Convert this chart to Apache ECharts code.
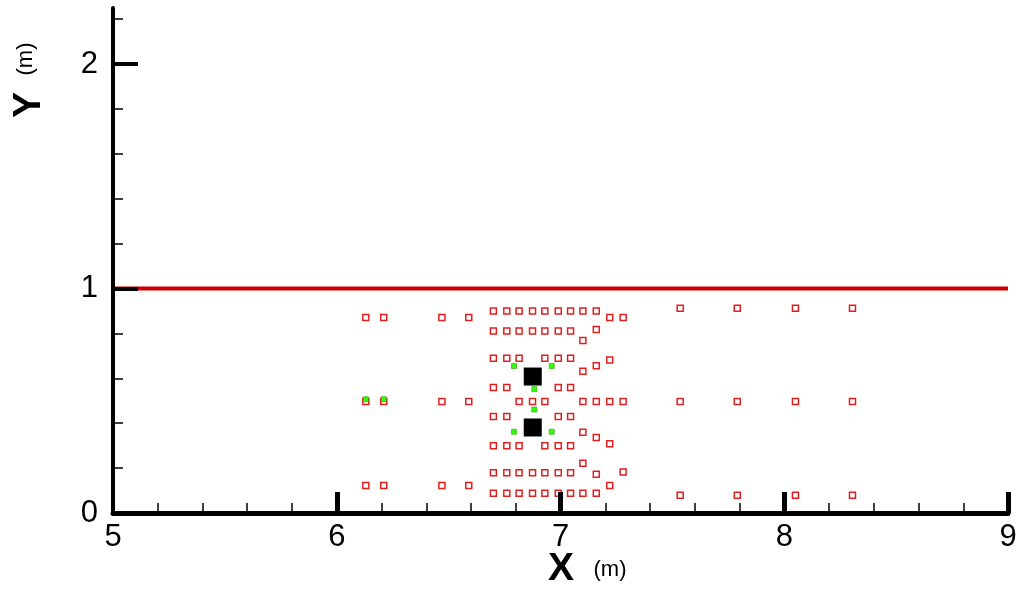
<!DOCTYPE html>
<html>
<head>
<meta charset="utf-8">
<script src="https://cdn.jsdelivr.net/npm/echarts@6/dist/echarts.min.js"></script>
<style>
  html, body { margin: 0; padding: 0; background: #fff; }
  #chart { width: 1024px; height: 590px; }
</style>
</head>
<body>
<div id="chart"></div>
<script>
// probe positions (red hollow squares)
const redSquares = [
  [6.70, 0.90], [6.76, 0.90], [6.815, 0.90], [6.875, 0.90], [6.93, 0.90], [6.99, 0.90], [7.045, 0.90], [7.10, 0.90], [7.16, 0.90],
  [7.535, 0.912], [7.79, 0.912], [8.05, 0.912], [8.305, 0.912],
  [6.13, 0.871], [6.21, 0.871], [6.47, 0.871], [6.59, 0.871], [7.22, 0.871], [7.28, 0.871],
  [6.70, 0.811], [6.76, 0.811], [6.815, 0.811], [6.875, 0.811], [6.93, 0.811], [6.99, 0.811], [7.045, 0.811],
  [7.16, 0.818], [7.10, 0.769],
  [6.70, 0.689], [6.76, 0.689], [6.815, 0.689], [6.93, 0.689], [6.99, 0.689], [7.045, 0.689],
  [7.22, 0.682], [7.16, 0.656], [7.10, 0.632],
  [6.70, 0.559], [6.76, 0.559], [6.99, 0.559], [7.045, 0.559],
  [6.13, 0.497], [6.21, 0.497], [6.47, 0.497], [6.59, 0.497], [6.815, 0.497], [6.875, 0.497], [6.93, 0.497],
  [7.10, 0.497], [7.16, 0.497], [7.22, 0.497], [7.28, 0.497], [7.535, 0.497], [7.79, 0.497], [8.05, 0.497], [8.305, 0.497],
  [6.70, 0.430], [6.76, 0.430], [6.99, 0.430], [7.045, 0.430],
  [7.10, 0.360], [7.16, 0.336], [7.22, 0.309],
  [6.70, 0.300], [6.76, 0.300], [6.815, 0.300], [6.93, 0.300], [6.99, 0.300], [7.045, 0.300],
  [7.10, 0.222],
  [6.70, 0.179], [6.76, 0.179], [6.815, 0.179], [6.875, 0.179], [6.93, 0.179], [6.99, 0.179], [7.045, 0.179],
  [7.16, 0.173], [7.28, 0.183],
  [6.13, 0.122], [6.21, 0.122], [6.47, 0.122], [6.59, 0.122], [7.22, 0.122],
  [6.70, 0.088], [6.76, 0.088], [6.815, 0.088], [6.875, 0.088], [6.93, 0.088], [6.99, 0.088], [7.045, 0.088], [7.10, 0.088], [7.16, 0.088],
  [7.535, 0.079], [7.79, 0.079], [8.05, 0.079], [8.305, 0.079]
]

const greenPoints = [
  [6.13, 0.507], [6.21, 0.507],
  [6.792, 0.655], [6.961, 0.655],
  [6.883, 0.552], [6.883, 0.461],
  [6.792, 0.362], [6.961, 0.362]
]

const blackSquares = [[6.876, 0.608], [6.876, 0.381]]

const surfaceLine = [[5, 1], [9, 1]]

const xTickLabels = [5, 6, 7, 8, 9]
const xMajorTicks = [6, 7, 8, 9]
const yTickLabels = [0, 1, 2]
const yMajorTicks = [1, 2]
const yMinorTicks = [0.2, 0.4, 0.6, 0.8, 1.2, 1.4, 1.6, 1.8, 2.2]

const FONT = "'Liberation Sans', Arial, sans-serif"

const chart = echarts.init(document.getElementById("chart"))

const yBase = {
  type: "value",
  min: 0,
  max: 2.25,
  interval: 1,
  splitLine: { show: false },
}

chart.setOption({
  animation: false,
  backgroundColor: "#fff",
  grid: { left: 113, right: 16, top: 8, bottom: 77 },
  xAxis: {
    type: "value",
    min: 5,
    max: 9,
    interval: 1,
    z: 5,
    axisLine: { onZero: false, lineStyle: { color: "#000", width: 5 } },
    axisTick: { inside: true, length: 21, customValues: xMajorTicks, lineStyle: { color: "#000", width: 5 } },
    minorTick: { show: true, splitNumber: 5, length: 10, lineStyle: { color: "#000", width: 1.5 } },
    axisLabel: { customValues: xTickLabels, color: "#000", fontSize: 31, fontFamily: FONT, margin: 9 },
    splitLine: { show: false },
  },
  yAxis: [
    {
      ...yBase,
      z: 5,
      axisLine: { onZero: false, lineStyle: { color: "#000", width: 4 } },
      axisTick: { inside: true, length: 25, customValues: yMajorTicks, lineStyle: { color: "#000", width: 4 } },
      axisLabel: { customValues: yTickLabels, color: "#000", fontSize: 31, fontFamily: FONT, margin: 15 },
    },
    {
      ...yBase,
      position: "left",
      z: 5,
      axisLine: { show: false },
      axisTick: { inside: true, length: 10, customValues: yMinorTicks, lineStyle: { color: "#000", width: 1.5 } },
      axisLabel: { show: false },
    },
  ],
  series: [
    {
      type: "line",
      data: surfaceLine,
      symbol: "none",
      z: 1,
      lineStyle: { color: "#cc0000", width: 4 },
    },
    {
      type: "scatter",
      data: redSquares,
      symbol: "rect",
      symbolSize: 6,
      itemStyle: { color: "#fff", borderColor: "#e02020", borderWidth: 1.5, opacity: 1 },
    },
    {
      type: "scatter",
      data: greenPoints,
      symbol: "rect",
      symbolSize: 5,
      itemStyle: { color: "#33ff00", borderColor: "#2a9a10", borderWidth: 0.6, opacity: 1 },
    },
    {
      type: "scatter",
      data: blackSquares,
      symbol: "rect",
      symbolSize: 18,
      itemStyle: { color: "#000", opacity: 1 },
    },
  ],
  graphic: [
    { type: "text", x: 561, y: 569, style: { text: "X", font: "bold 39px " + FONT, fill: "#000", align: "center", verticalAlign: "middle" } },
    { type: "text", x: 610, y: 570, style: { text: "(m)", font: "22px " + FONT, fill: "#000", align: "center", verticalAlign: "middle" } },
    { type: "text", x: 29, y: 105, rotation: Math.PI / 2, style: { text: "Y", font: "bold 39px " + FONT, fill: "#000", align: "center", verticalAlign: "middle" } },
    { type: "text", x: 26, y: 59, rotation: Math.PI / 2, style: { text: "(m)", font: "22px " + FONT, fill: "#000", align: "center", verticalAlign: "middle" } },
  ],
})
</script>
</body>
</html>
